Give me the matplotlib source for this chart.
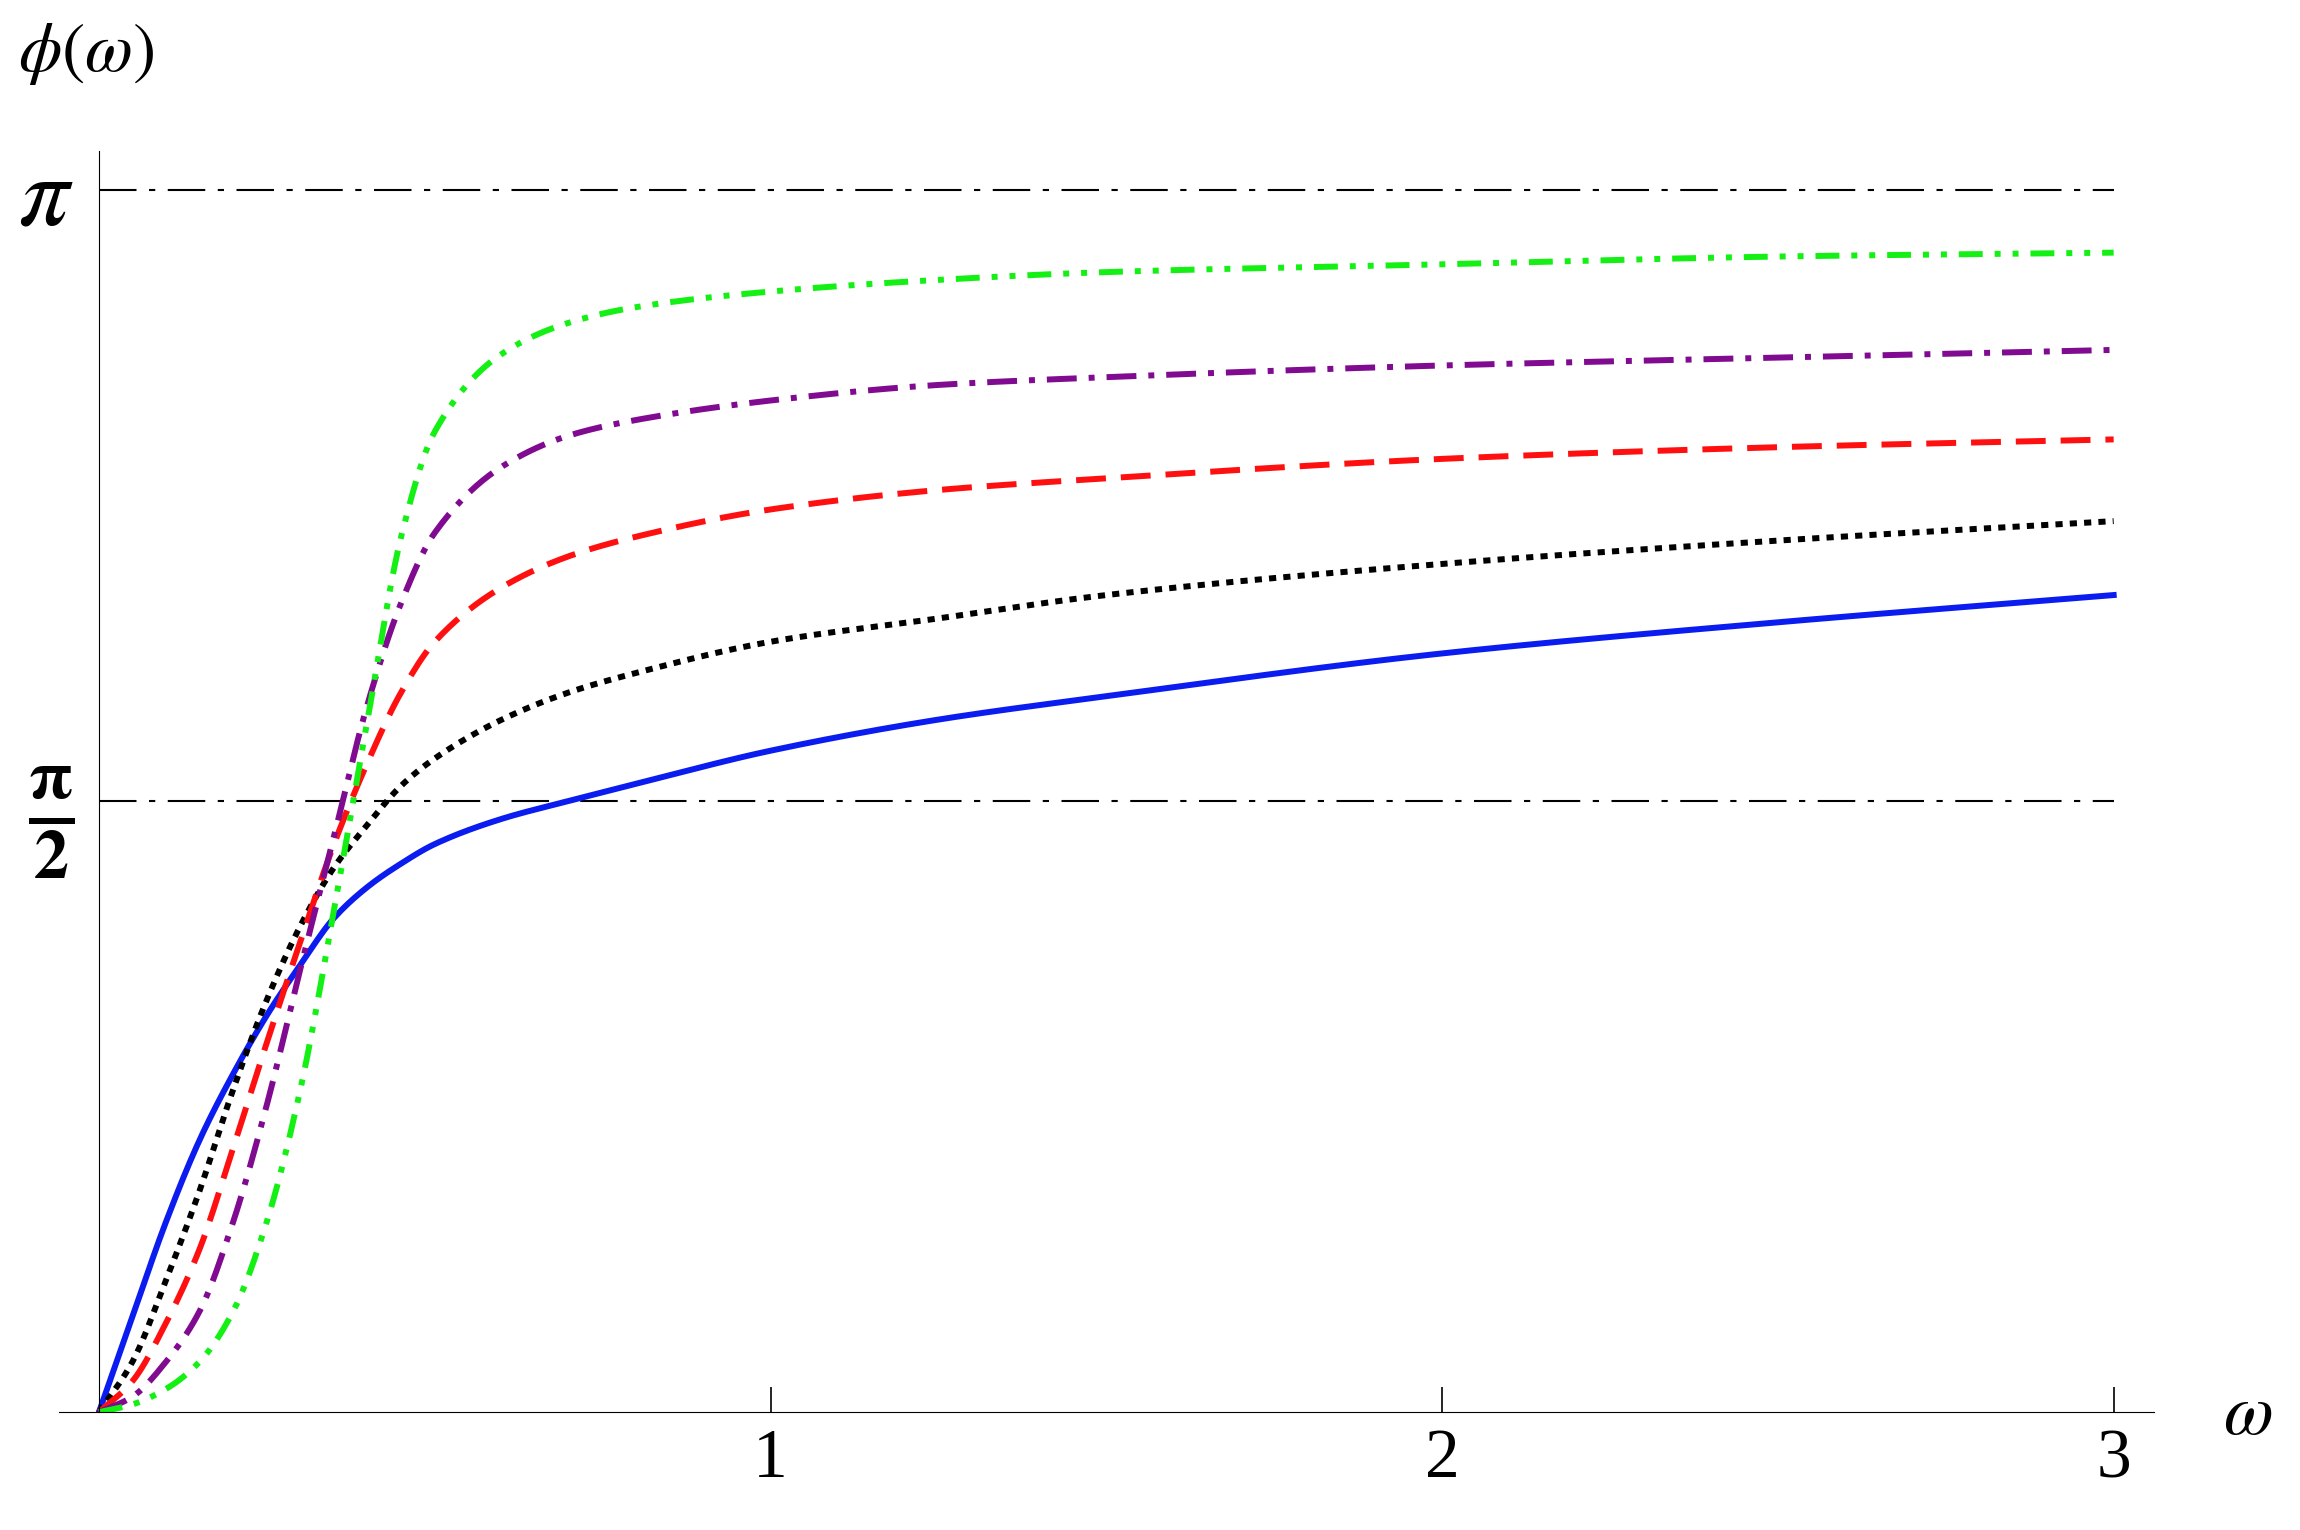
import numpy as np
import matplotlib
matplotlib.use("Agg")
import matplotlib.pyplot as plt

plt.rcParams['font.family'] = ['Liberation Serif', 'DejaVu Serif']
plt.rcParams['mathtext.fontset'] = 'stix'

omega = [0, 0.05, 0.1, 0.15, 0.2, 0.25, 0.3, 0.35, 0.4, 0.45, 0.5, 0.6, 0.7, 0.8, 1.0, 1.25, 1.5, 2.0, 2.5, 3.0]
blue   = [0, 0.246, 0.49, 0.70, 0.87, 1.02, 1.15, 1.27, 1.35, 1.41, 1.46, 1.525, 1.571, 1.615, 1.70, 1.78, 1.84, 1.95, 2.03, 2.10]
black  = [0, 0.13, 0.34, 0.57, 0.83, 1.06, 1.25, 1.40, 1.51, 1.61, 1.68, 1.78, 1.85, 1.90, 1.98, 2.04, 2.10, 2.18, 2.24, 2.29]
red    = [0, 0.08, 0.23, 0.42, 0.68, 0.95, 1.21, 1.46, 1.67, 1.85, 1.98, 2.12, 2.20, 2.25, 2.32, 2.37, 2.40, 2.45, 2.48, 2.50]
purple = [0, 0.04, 0.13, 0.26, 0.49, 0.79, 1.14, 1.48, 1.82, 2.08, 2.26, 2.43, 2.51, 2.55, 2.60, 2.64, 2.66, 2.69, 2.71, 2.73]
green  = [0, 0.02, 0.06, 0.13, 0.26, 0.49, 0.83, 1.29, 1.78, 2.25, 2.52, 2.72, 2.80, 2.84, 2.88, 2.91, 2.93, 2.95, 2.97, 2.98]


def pchip_draw(x, y, n=600):
    """Monotone cubic Hermite curve for drawing through the read points."""
    x = np.asarray(x, float); y = np.asarray(y, float)
    h = np.diff(x); d = np.diff(y) / h
    m = np.zeros_like(y)
    for k in range(1, len(x) - 1):
        if d[k - 1] * d[k] > 0:
            w1 = 2 * h[k] + h[k - 1]; w2 = h[k] + 2 * h[k - 1]
            m[k] = (w1 + w2) / (w1 / d[k - 1] + w2 / d[k])
    m[0] = d[0]; m[-1] = d[-1]
    xs = np.linspace(x[0], x[-1], n)
    idx = np.clip(np.searchsorted(x, xs) - 1, 0, len(x) - 2)
    t = (xs - x[idx]) / h[idx]
    h00 = 2*t**3 - 3*t**2 + 1; h10 = t**3 - 2*t**2 + t
    h01 = -2*t**3 + 3*t**2; h11 = t**3 - t**2
    ys = h00*y[idx] + h10*h[idx]*m[idx] + h01*y[idx+1] + h11*h[idx]*m[idx+1]
    return xs, ys


fig = plt.figure(figsize=(23, 15.3), dpi=100)
ax = fig.add_axes([0.0255, 0.077, 0.911, 0.824])
lw = 4.3
ax.plot([0, 3], [np.pi/2]*2, color='black', lw=1.5, dashes=[18, 6, 3, 6])
ax.plot([0, 3], [np.pi]*2, color='black', lw=1.5, dashes=[18, 6, 3, 6])
ax.plot(*pchip_draw(omega, blue), color='#0a1cf0', lw=lw)
ax.plot(*pchip_draw(omega, black), color='black', lw=lw, dashes=[1.2, 1.2])
ax.plot(*pchip_draw(omega, red), color='#ff1010', lw=lw, dashes=[5, 2.5])
ax.plot(*pchip_draw(omega, purple), color='#800a90', lw=lw, dashes=[5, 2, 1, 2])
ax.plot(*pchip_draw(omega, green), color='#14f014', lw=lw, dashes=[4, 2, 1, 2, 1, 2])

ax.set_xlim(-0.06, 3.06)
ax.set_ylim(0, 3.24)
for s in ['top', 'right']:
    ax.spines[s].set_visible(False)
ax.spines['left'].set_position(('data', 0))
ax.spines['bottom'].set_position(('data', 0))
ax.set_xticks([1, 2, 3])
ax.set_xticklabels(['1', '2', '3'])
ax.set_yticks([np.pi/2, np.pi])
ax.set_yticklabels([r'$\mathbf{\frac{\pi}{2}}$', r'$\pi$'])
ax.tick_params(axis='x', direction='in', length=18, width=1.2, labelsize=50, pad=12)
ax.tick_params(axis='y', direction='in', length=18, width=1.2, labelsize=72, pad=18)
ax.text(3.2, -0.01, r'$\omega$', fontsize=52, ha='center', va='center', transform=ax.transData, clip_on=False)
fig.text(0.008, 0.965, r'$\phi(\omega)$', fontsize=50, ha='left', va='center')
fig.savefig('out.png', dpi=100)
